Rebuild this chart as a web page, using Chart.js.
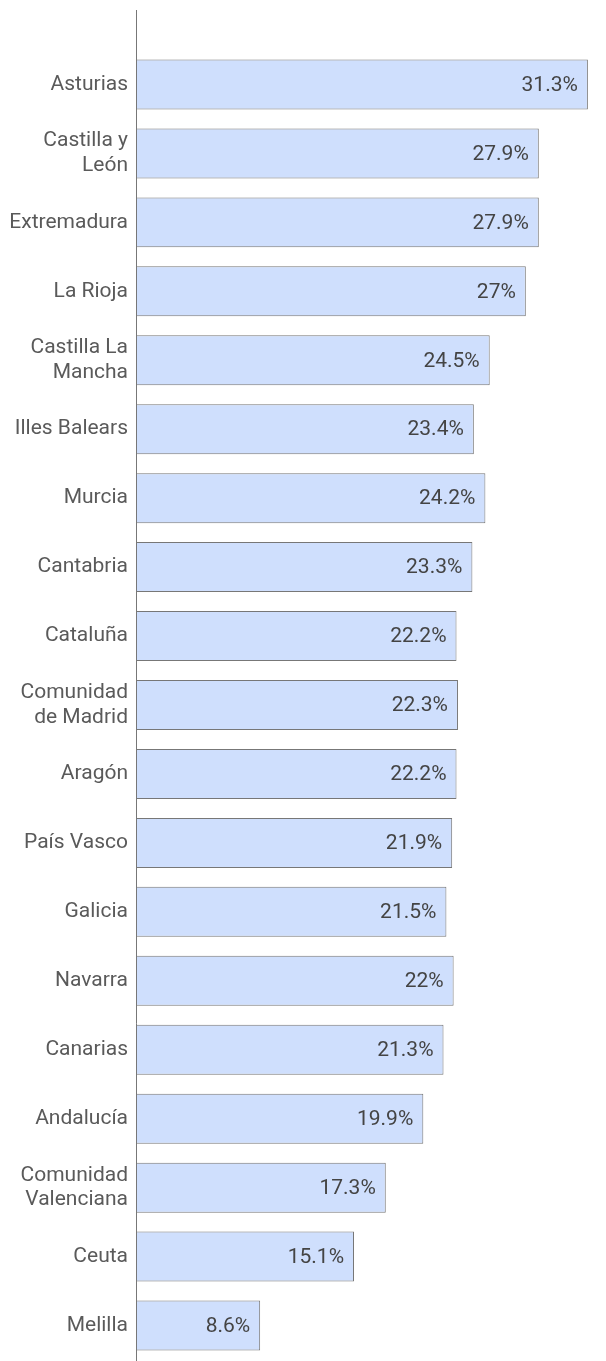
<!DOCTYPE html>
<html>
<head>
<meta charset="utf-8">
<script src="https://cdn.jsdelivr.net/npm/chart.js@4"></script>
<style>
  html, body { margin: 0; padding: 0; background: #fff; }
  #wrap { width: 606px; height: 1361px; position: relative; }
</style>
</head>
<body>
<div id="wrap"><canvas id="chart"></canvas></div>
<script>
const regions = [
    'Asturias', ['Castilla y', 'León'], 'Extremadura', 'La Rioja', ['Castilla La', 'Mancha'],
    'Illes Balears', 'Murcia', 'Cantabria', 'Cataluña', ['Comunidad', 'de Madrid'],
    'Aragón', 'País Vasco', 'Galicia', 'Navarra', 'Canarias', 'Andalucía',
    ['Comunidad', 'Valenciana'], 'Ceuta', 'Melilla'
];
const rates = [31.3, 27.9, 27.9, 27, 24.5, 23.4, 24.2, 23.3, 22.2, 22.3, 22.2, 21.9, 21.5, 22, 21.3, 19.9, 17.3, 15.1, 8.6];
const x_max = 32;

const font_family = 'Roboto, "Liberation Sans", Arial, sans-serif';

// value labels at the end of each bar
const value_labels = {
    id: 'value_labels',
    afterDatasetsDraw(chart) {
        const ctx = chart.ctx;
        const meta = chart.getDatasetMeta(0);
        ctx.save();
        ctx.font = '21px ' + font_family;
        ctx.fillStyle = '#444';
        ctx.textAlign = 'right';
        ctx.textBaseline = 'middle';
        meta.data.forEach((bar, i) => {
            ctx.fillText(rates[i] + '%', bar.x - 10, bar.y + 1);
        });
        ctx.restore();
    }
};

// vertical axis line, runs above the first bar
const axis_line = {
    id: 'axis_line',
    afterDraw(chart) {
        const ctx = chart.ctx;
        const x = Math.round(chart.scales.x.getPixelForValue(0)) + 0.5;
        ctx.save();
        ctx.strokeStyle = '#777';
        ctx.lineWidth = 1;
        ctx.beginPath();
        ctx.moveTo(x, 10);
        ctx.lineTo(x, chart.height);
        ctx.stroke();
        ctx.restore();
    }
};

const config = {
    type: 'bar',
    data: {
        labels: regions,
        datasets: [{
            data: rates,
            backgroundColor: '#cfdffd',
            borderColor: '#777',
            borderWidth: 1,
            borderSkipped: false,
            barPercentage: 0.725,
            categoryPercentage: 1
        }]
    },
    options: {
        indexAxis: 'y',
        responsive: true,
        maintainAspectRatio: false,
        animation: false,
        layout: { padding: { top: 50, bottom: 1, right: 8, left: 0 } },
        plugins: {
            legend: { display: false },
            tooltip: { enabled: false }
        },
        scales: {
            x: {
                display: false,
                min: 0,
                max: x_max
            },
            y: {
                grid: { display: false },
                border: { display: false },
                afterFit(scale) {
                    scale.width = 136;
                    scale.paddingTop = 0;
                    scale.paddingBottom = 0;
                },
                ticks: {
                    padding: 0,
                    color: '#5a5a5a',
                    font: { size: 21, family: font_family, lineHeight: 1.17 }
                }
            }
        }
    },
    plugins: [value_labels, axis_line]
};

new Chart(document.getElementById('chart'), config);
</script>
</body>
</html>
